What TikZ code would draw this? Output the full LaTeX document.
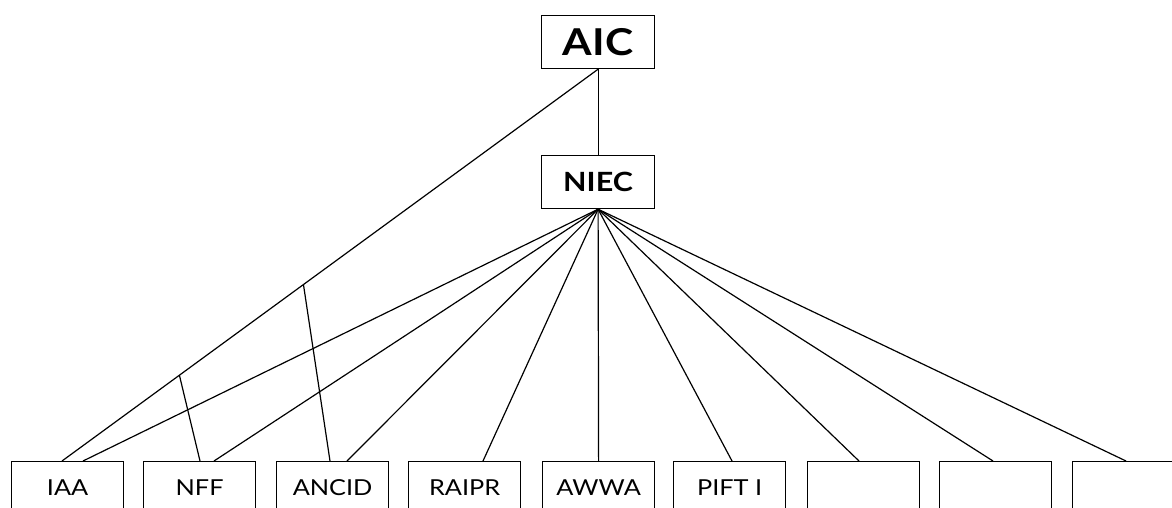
\documentclass[tikz,border=0pt]{standalone}
\usepackage{fontspec}
\setmainfont{Lato}[FakeStretch=1.15]
\begin{document}
\begin{tikzpicture}[x=1pt,y=-1pt,
  box/.style={draw, line width=1.2pt, minimum width=112pt, minimum height=53pt, inner sep=0pt, anchor=north west, font=\fontsize{22}{24}\selectfont},
  topbox/.style={box, minimum width=113pt, font=\bfseries\fontsize{37}{40}\selectfont},
  conn/.style={line width=1.2pt}]
\useasboundingbox (0,0) rectangle (1172,507);
\clip (0,0) rectangle (1172,507);
\node[topbox] (aic) at (541,15) {AIC};
\node[topbox, font=\bfseries\fontsize{26.5}{30}\selectfont] (niec) at (541,155) {NIEC};
\node[box] (b1) at (11,461) {IAA};
\node[box] (b2) at (143,461) {NFF};
\node[box] (b3) at (276,461) {ANCID};
\node[box] (b4) at (408,461) {RAIPR};
\node[box] (b5) at (542,461) {AWWA};
\node[box] (b6) at (673,461) {PIFT I};
\node[box] (b7) at (807,461) {};
\node[box] (b8) at (939,461) {};
\node[box] (b9) at (1072,461) {};
\draw[conn] (aic.south) -- (niec.north);
\draw[conn] (aic.south) -- ([xshift=51pt]b1.north west) coordinate (iaaA);
\path (aic.south) -- (iaaA) coordinate[pos=0.781] (p1) coordinate[pos=0.5496] (p2);
\draw[conn] (p1) -- ([xshift=57pt]b2.north west);
\draw[conn] (p2) -- ([xshift=54pt]b3.north west);
\draw[conn] (niec.south) -- ([xshift=72pt]b1.north west);
\draw[conn] (niec.south) -- ([xshift=71pt]b2.north west);
\draw[conn] (niec.south) -- ([xshift=71pt]b3.north west);
\draw[conn] (niec.south) -- ([xshift=75pt]b4.north west);
\draw[conn] (niec.south) -- (b5.north);
\draw[conn] (niec.south) -- ([xshift=59pt]b6.north west);
\draw[conn] (niec.south) -- ([xshift=52pt]b7.north west);
\draw[conn] (niec.south) -- ([xshift=54pt]b8.north west);
\draw[conn] (niec.south) -- ([xshift=54pt]b9.north west);
\end{tikzpicture}
\end{document}
